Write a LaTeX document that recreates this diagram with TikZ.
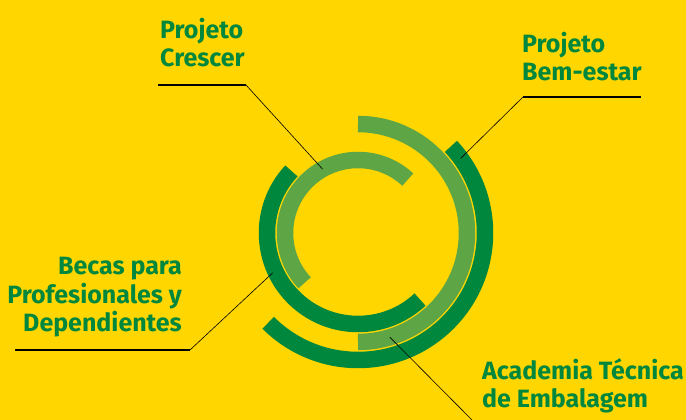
\documentclass[tikz,border=0pt]{standalone}
\usepackage{fontspec}
\setmainfont{Fira Sans}
\usetikzlibrary{positioning}
\definecolor{bgyellow}{HTML}{FFD600}
\definecolor{darkgreen}{HTML}{00873E}
\definecolor{lightgreen}{HTML}{5DA545}
\tikzstyle{ring}=[line width=16.5pt]
\tikzstyle{darkring}=[ring, draw=darkgreen]
\tikzstyle{lightring}=[ring, draw=lightgreen]
\tikzstyle{caption}=[inner sep=0pt, text=darkgreen, font=\fontsize{25}{28.5}\selectfont\bfseries]
\tikzstyle{lead}=[draw=black, line width=0.6pt]
\tikzstyle{shelf}=[lead, line width=1.2pt]

\begin{document}
\begin{tikzpicture}[x=1pt,y=1pt]
\fill[bgyellow] (0,0) rectangle (686,420);
\useasboundingbox (0,0) rectangle (686,420);
\coordinate (c) at (358,187);

\draw [lightring] (c) ++(47:73) arc[start angle=47, end angle=223, radius=73];
\draw [darkring] (c) ++(137:91) arc[start angle=137, end angle=313, radius=91];
\draw [lightring] (c) ++(90:109) arc[start angle=90, end angle=-90, radius=109];
\draw [darkring] (c) ++(43:127) arc[start angle=43, end angle=-135, radius=127];

\node (crescer) [caption, anchor=north west, align=left] at (160,402) {Projeto\\Crescer};
\node (bemestar) [caption, anchor=north west, align=left] at (522,388) {Projeto\\Bem-estar};
\node (becas) [caption, anchor=north east, align=right] at (182,163) {Becas para\\Profesionales y\\Dependientes};
\node (academia) [caption, anchor=north west, align=left] at (482,62) {Academia Técnica\\de Embalagem};

\path (c) ++(119:73) coordinate (crescerEnd);
\path (c) ++(36:127) coordinate (bemestarEnd);
\path (c) ++(205:94) coordinate (becasEnd);
\path (c) ++(-73:109) coordinate (academiaEnd);
\coordinate (crescerL) at (158,335);
\coordinate (crescerK) at (246,335);
\coordinate (bemestarR) at (641,323);
\coordinate (bemestarK) at (523,323);
\coordinate (becasL) at (15,70);
\coordinate (becasK) at (190,70);
\coordinate (academiaOut) at (472,0);

\draw [shelf] (crescerL) -- (crescerK);
\draw [lead] (crescerK) -- (crescerEnd);
\draw [shelf] (bemestarR) -- (bemestarK);
\draw [lead] (bemestarK) -- (bemestarEnd);
\draw [shelf] (becasL) -- (becasK);
\draw [lead] (becasK) -- (becasEnd);
\draw [lead] (academiaEnd) -- (academiaOut);
\end{tikzpicture}
\end{document}
